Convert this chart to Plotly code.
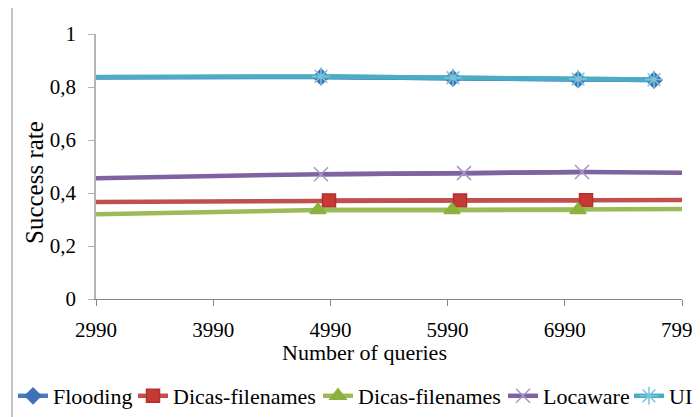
import plotly.graph_objects as go

# ---- data ----
queries_flooding = [2990, 4910, 6036, 7103, 7751]
flooding = [0.836, 0.838, 0.833, 0.828, 0.826]

queries_dicas_red = [2990, 4978, 6096, 7171, 7990]
dicas_red = [0.366, 0.372, 0.372, 0.373, 0.374]

queries_dicas_green = [2990, 4884, 6028, 7103, 7990]
dicas_green = [0.320, 0.336, 0.336, 0.336, 0.340]

queries_locaware = [2990, 4910, 6130, 7137, 7990]
locaware = [0.456, 0.471, 0.475, 0.479, 0.476]

queries_uic = [2990, 4910, 6036, 7103, 7751]
uic = [0.838, 0.840, 0.835, 0.830, 0.828]

x_ticks = [2990, 3990, 4990, 5990, 6990, 7990]
y_ticks = [0, 0.2, 0.4, 0.6, 0.8, 1]

FONT = "serif"

series = [
    ("Flooding", queries_flooding, flooding, "#4A7EBB", "diamond", "#3F72B5", "#3F72B5", 12, (1, 5), 75),
    ("Dicas-filenames", queries_dicas_red, dicas_red, "#C0504D", "square", "#C63A36", "#B3302C", 13, (1, 4), 140),
    ("Dicas-filenames", queries_dicas_green, dicas_green, "#9BBB59", "triangle-up", "#8AB23C", "#8AB23C", 14, (1, 4), 140),
    ("Locaware", queries_locaware, locaware, "#7F63A1", "x-thin-open", "#A897C5", "#A897C5", 14, (1, 4), 81),
    ("UIC", queries_uic, uic, "#4BACC6", "asterisk-open", "#7CC3DA", "#7CC3DA", 15, (1, 5), 18),
]

fig = go.Figure()
for name, xs, ys, lc, sym, mc, mlc, ms, (a, b), lw in series:
    fig.add_trace(go.Scatter(
        x=xs, y=ys, mode="lines", showlegend=False, hoverinfo="skip",
        line=dict(color=lc, width=4.5),
    ))
    fig.add_trace(go.Scatter(
        x=xs[a:b], y=ys[a:b], mode="lines+markers", name=name,
        line=dict(color=lc, width=4.5),
        marker=dict(symbol=sym, size=ms, color=mc, line=dict(color=mlc, width=1.5)),
        legendwidth=lw,
    ))

# page body has an 8px margin: figure is drawn 8px right/down of the page corner
OFF = 8
L, T = 96 - OFF, 34 - OFF
PW = 700 - L               # paper width (right margin 0)
PLOT_W = 682 - 96          # visible axis length
PLOT_H = 299 - 34


def xp(px):  # page pixel -> paper x
    return (px - OFF - L) / PW


def yp(py):  # page pixel -> paper y
    return (299 - py) / PLOT_H


fig.update_layout(
    width=700, height=417,
    margin=dict(l=L, r=0, t=T, b=417 - (299 - OFF), autoexpand=False),
    paper_bgcolor="white", plot_bgcolor="white",
    separators=",.",
    font=dict(family=FONT, size=21, color="black"),
    showlegend=True,
    legend=dict(
        orientation="h", x=xp(13), xanchor="left",
        y=yp(396), yanchor="middle",
        font=dict(family=FONT, size=22, color="black"),
        bgcolor="rgba(0,0,0,0)", borderwidth=0,
    ),
    xaxis=dict(
        domain=[0, PLOT_W / PW],
        range=[2990, 7990], tickvals=x_ticks,
        showline=True, linecolor="#868686", linewidth=1,
        ticks="outside", ticklen=6, tickcolor="#868686",
        showgrid=False, zeroline=False,
        tickfont=dict(family=FONT, size=21, color="black"),
        ticklabelstandoff=6,
    ),
    yaxis=dict(
        range=[0, 1], tickvals=y_ticks,
        showline=True, linecolor="#B4B4B4", linewidth=1.5,
        ticks="outside", ticklen=6, tickcolor="#B4B4B4",
        showgrid=False, zeroline=False,
        tickfont=dict(family=FONT, size=21, color="black"),
        ticklabelstandoff=8,
    ),
    annotations=[
        dict(text="Number of queries", xref="paper", yref="paper",
             x=xp(364), y=yp(352), xanchor="center", yanchor="middle",
             showarrow=False, font=dict(family=FONT, size=22, color="black")),
        dict(text="Success rate", xref="paper", yref="paper",
             x=xp(34), y=yp(183), xanchor="center", yanchor="middle",
             textangle=-90, showarrow=False, font=dict(family=FONT, size=25, color="black")),
    ],
    shapes=[
        dict(type="rect", xref="paper", yref="paper",
             x0=xp(12), x1=xp(712), y0=yp(430), y1=yp(7),
             line=dict(color="#888888", width=1), fillcolor="rgba(0,0,0,0)", layer="below"),
    ],
)

fig.write_html("out.html")
